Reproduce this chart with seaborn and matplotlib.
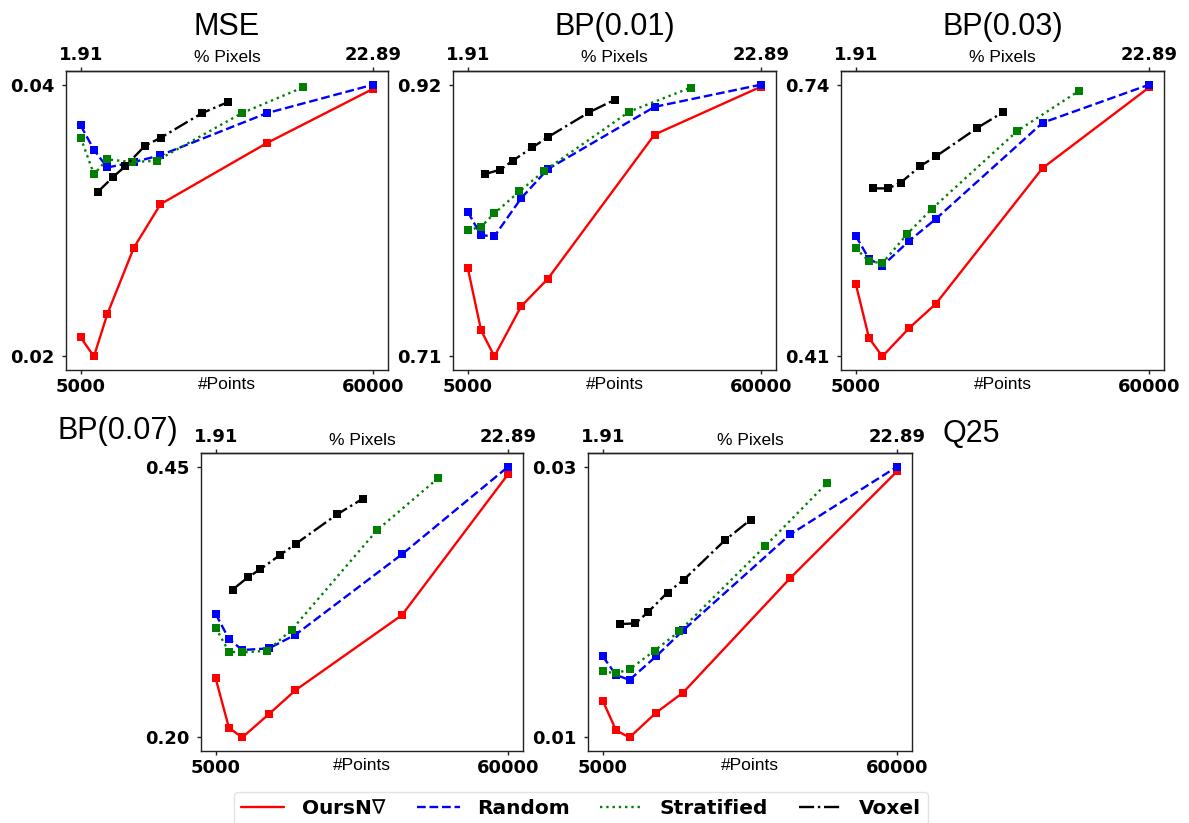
import matplotlib
matplotlib.use("Agg")
import matplotlib.pyplot as plt
from matplotlib.lines import Line2D
import pandas as pd
import seaborn as sns

# ---- sampling budgets (x positions) ----
points_ours = [5000, 7500, 10000, 15000, 20000, 40000, 60000]
points_random = [5000, 7500, 10000, 15000, 20000, 40000, 60000]
points_strat = [5000, 7500, 10000, 14700, 19300, 35300, 46800]
points_voxel = [8200, 11100, 13400, 17100, 20100, 27800, 32600]

# top axis: share of image pixels at the two end budgets
point_ticks = [5000, 60000]
pixel_pct_labels = ["1.91", "22.89"]

titles = ["MSE", "BP(0.01)", "BP(0.03)", "BP(0.07)", "Q25"]
methods = [r"Ours$\mathbf{N}\nabla$", "Random", "Stratified", "Voxel"]

# ---- metric values per method ----
mse_ours = [0.0214, 0.0200, 0.0231, 0.0280, 0.0312, 0.0357, 0.0397]
mse_random = [0.0370, 0.0352, 0.0339, 0.0343, 0.0348, 0.0379, 0.0400]
mse_strat = [0.0361, 0.0334, 0.0345, 0.0343, 0.0344, 0.0379, 0.0398]
mse_voxel = [0.0321, 0.0332, 0.0340, 0.0355, 0.0361, 0.0379, 0.0387]

bp01_ours = [0.7786, 0.7303, 0.7100, 0.7486, 0.7699, 0.8814, 0.9185]
bp01_random = [0.8218, 0.8036, 0.8028, 0.8321, 0.8547, 0.9028, 0.9200]
bp01_strat = [0.8074, 0.8102, 0.8205, 0.8375, 0.8532, 0.8992, 0.9177]
bp01_voxel = [0.8509, 0.8542, 0.8611, 0.8714, 0.8796, 0.8987, 0.9084]

bp03_ours = [0.4985, 0.4322, 0.4100, 0.4443, 0.4738, 0.6386, 0.7368]
bp03_random = [0.5566, 0.5283, 0.5199, 0.5502, 0.5768, 0.6936, 0.7400]
bp03_strat = [0.5413, 0.5255, 0.5231, 0.5590, 0.5893, 0.6839, 0.7323]
bp03_voxel = [0.6140, 0.6140, 0.6208, 0.6410, 0.6532, 0.6875, 0.7065]

bp07_ours = [0.2546, 0.2089, 0.2000, 0.2215, 0.2436, 0.3129, 0.4433]
bp07_random = [0.3141, 0.2908, 0.2807, 0.2822, 0.2948, 0.3690, 0.4500]
bp07_strat = [0.3012, 0.2791, 0.2785, 0.2800, 0.2994, 0.3911, 0.4393]
bp07_voxel = [0.3365, 0.3479, 0.3552, 0.3684, 0.3788, 0.4058, 0.4202]

q25_ours = [0.01272, 0.01052, 0.01000, 0.01184, 0.01331, 0.02176, 0.02966]
q25_random = [0.01599, 0.01461, 0.01425, 0.01600, 0.01790, 0.02499, 0.03000]
q25_strat = [0.01488, 0.01474, 0.01503, 0.01641, 0.01783, 0.02411, 0.02875]
q25_voxel = [0.01837, 0.01842, 0.01923, 0.02070, 0.02163, 0.02455, 0.02607]

panel_values = [
    [mse_ours, mse_random, mse_strat, mse_voxel],
    [bp01_ours, bp01_random, bp01_strat, bp01_voxel],
    [bp03_ours, bp03_random, bp03_strat, bp03_voxel],
    [bp07_ours, bp07_random, bp07_strat, bp07_voxel],
    [q25_ours, q25_random, q25_strat, q25_voxel],
]
method_points = [points_ours, points_random, points_strat, points_voxel]

# ---- styling ----
colors = ["#ff0000", "#0000ff", "#008000", "#000000"]
linestyles = ["-", "--", ":", "-."]

sns.set_style("ticks")
plt.rcParams["font.family"] = ["DejaVu Sans"]
plt.rcParams["text.color"] = "black"
plt.rcParams["axes.labelcolor"] = "black"
plt.rcParams["axes.edgecolor"] = "#222222"
plt.rcParams["axes.linewidth"] = 1.0

W, H = 1189, 823
fig = plt.figure(figsize=(W / 100, H / 100), dpi=100)

# axes boxes in pixels: left, top, right, bottom
boxes = [
    (66, 71, 388, 370),
    (453, 71, 776, 370),
    (841, 71, 1164, 370),
    (201, 453, 523, 751),
    (588, 453, 912, 751),
]

label_font = "Liberation Sans"
for i, (title, values, box) in enumerate(zip(titles, panel_values, boxes)):
    l, t, r, b = box
    h = b - t
    ax = fig.add_axes([l / W, 1 - b / H, (r - l) / W, h / H])
    for m, (name, xs, ys) in enumerate(zip(methods, method_points, values)):
        df = pd.DataFrame({"points": xs, "value": ys})
        sns.lineplot(data=df, x="points", y="value", ax=ax, color=colors[m],
                     linestyle=linestyles[m], linewidth=1.7, marker="s",
                     markersize=5.5, markeredgewidth=0, legend=False)
    lo = min(min(v) for v in values)
    hi = max(max(v) for v in values)
    ax.margins(x=0.05, y=0.05)
    ax.set_xticks(point_ticks, labels=[str(p) for p in point_ticks])
    ax.set_yticks([lo, hi], labels=[f"{lo:.2f}", f"{hi:.2f}"])
    ax.tick_params(axis="both", length=3, width=1, labelsize=13,
                   colors="#222222", labelcolor="black")
    ax.tick_params(axis="x", pad=3)
    ax.tick_params(axis="y", pad=5.5)
    for lab in ax.get_xticklabels() + ax.get_yticklabels():
        lab.set_fontweight("bold")
    ax.set_ylabel("")
    ax.set_xlabel("#Points", family=label_font, fontsize=12.5, va="baseline")
    ax.xaxis.set_label_coords(0.5, -19 / h)

    sec = ax.secondary_xaxis("top")
    sec.set_xticks(point_ticks, labels=pixel_pct_labels)
    sec.tick_params(axis="x", length=3, width=1, pad=2, labelsize=13,
                    colors="#222222", labelcolor="black")
    for lab in sec.get_xticklabels():
        lab.set_fontweight("bold")
    sec.set_xlabel("% Pixels", family=label_font, fontsize=12.5, va="baseline")
    sec.xaxis.set_label_coords(0.5, 1 + 8.5 / h, transform=ax.transAxes)

    if i < 3:
        ax.set_title(title, family=label_font, fontsize=22, y=1 + 36 / h, pad=0)

fig.text(57 / W, 1 - 439 / H, titles[3], family=label_font, fontsize=22,
         ha="left", va="baseline")
fig.text(943 / W, 1 - 441.5 / H, titles[4], family=label_font, fontsize=22,
         ha="left", va="baseline")

handles = [Line2D([], [], color=c, linestyle=s, linewidth=1.7)
           for c, s in zip(colors, linestyles)]
fig.legend(handles, methods, loc="upper left", bbox_to_anchor=(234 / W, 1 - 792 / H),
           ncol=4, frameon=True, prop={"weight": "bold", "size": 14.5},
           handlelength=2.13, handletextpad=0.85, columnspacing=1.5,
           borderpad=0.35, borderaxespad=0, fancybox=True, edgecolor="#dddddd")

fig.savefig("out.png", dpi=100, facecolor="white")
